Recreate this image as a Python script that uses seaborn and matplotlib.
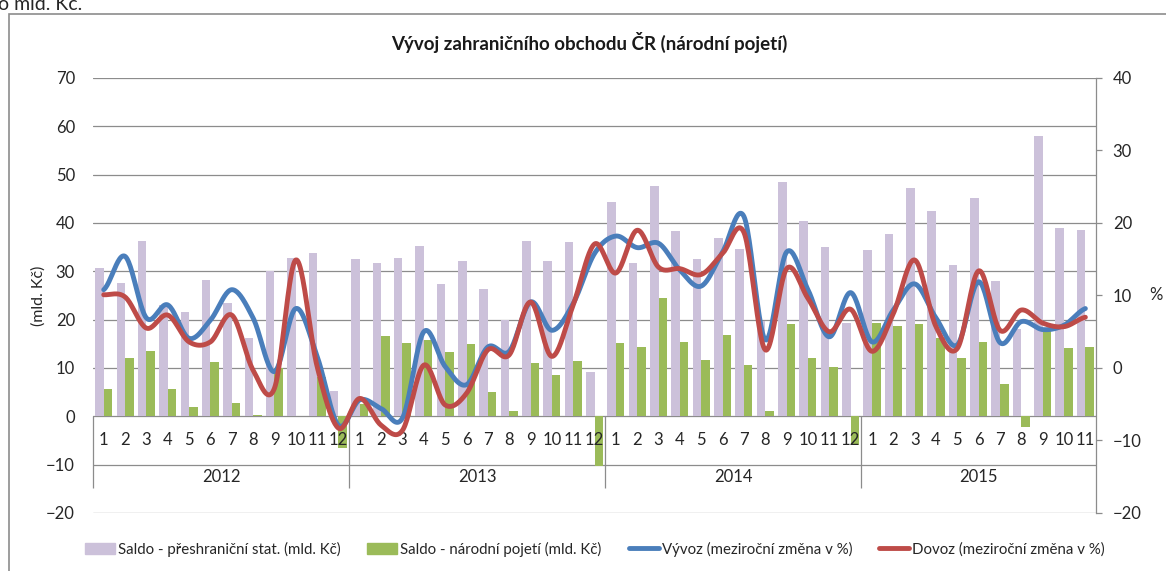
import matplotlib
matplotlib.use("Agg")
import matplotlib.pyplot as plt
from matplotlib.patches import Patch, Rectangle
from matplotlib.lines import Line2D
import numpy as np
import pandas as pd
import seaborn as sns

sns.set_style("white")
plt.rcParams['font.family'] = ['Lato', 'DejaVu Sans']

# --- data ---
years = ["2012", "2013", "2014", "2015"]
months_per_year = [12, 12, 12, 11]
month_labels = [str(m) for n in months_per_year for m in range(1, n + 1)]

saldo_preshranicni = [30.7, 27.6, 36.3, 23.0, 21.5, 28.3, 23.4, 16.3, 30.1, 32.8, 33.8, 5.3,
                      32.6, 31.8, 32.7, 35.3, 27.4, 32.2, 26.4, 20.0, 36.3, 32.2, 36.0, 9.2,
                      44.4, 31.8, 47.7, 38.4, 32.5, 36.9, 34.7, 19.7, 48.5, 40.4, 35.0, 19.3,
                      34.5, 37.7, 47.2, 42.4, 31.4, 45.2, 28.1, 18.0, 58.1, 39.0, 38.6]
saldo_narodni = [5.7, 12.1, 13.6, 5.7, 1.9, 11.2, 2.8, 0.2, 10.0, 0.0, 8.2, -6.5,
                 2.5, 16.7, 15.2, 15.8, 13.4, 14.9, 5.0, 1.2, 11.0, 8.6, 11.4, -10.2,
                 15.2, 14.3, 24.4, 15.4, 11.7, 16.9, 10.7, 1.2, 19.1, 12.1, 10.3, -5.9,
                 19.4, 18.6, 19.1, 16.3, 12.1, 15.4, 6.6, -2.3, 17.6, 14.2, 14.3]
vyvoz = [10.8, 15.4, 6.9, 8.7, 4.1, 6.6, 10.8, 6.9, -0.5, 8.2, 1.6, -7.9,
         -4.4, -5.6, -6.9, 5.0, 0.2, -2.3, 2.9, 2.3, 9.1, 5.2, 8.9, 15.8,
         18.2, 16.6, 17.2, 13.5, 11.3, 16.0, 20.9, 3.9, 16.0, 10.8, 4.3, 10.4,
         3.6, 8.0, 11.6, 6.9, 3.2, 11.9, 3.5, 6.4, 5.3, 5.9, 8.2]
dovoz = [10.1, 9.8, 5.5, 7.3, 3.6, 3.6, 7.3, -0.3, -2.8, 14.9, 0.2, -8.3,
         -4.2, -7.9, -8.6, 0.4, -5.1, -3.5, 2.5, 1.8, 9.1, 1.6, 8.7, 17.1,
         13.1, 19.0, 13.9, 13.7, 12.9, 15.8, 18.7, 2.5, 13.7, 9.6, 5.0, 8.1,
         2.3, 7.5, 14.9, 5.7, 2.7, 13.4, 5.2, 8.0, 6.2, 5.7, 7.0]

labels = ["Saldo - přeshraniční stat. (mld. Kč)", "Saldo - národní pojetí (mld. Kč)",
          "Vývoz (meziroční změna v %)", "Dovoz (meziroční změna v %)"]
c_lav, c_green, c_blue, c_red = "#ccc1da", "#9bbb59", "#4a7ebb", "#be4b48"
grid_c = "#8c8c8c"
txt_c = "#262626"

n = len(month_labels)
idx = np.arange(n)
bars = pd.DataFrame({
    "idx": np.concatenate([idx, idx]),
    "value": saldo_preshranicni + saldo_narodni,
    "series": [labels[0]] * n + [labels[1]] * n,
})


def smooth(vals, steps=24):
    # Catmull-Rom curve through the points (like Excel "smoothed line")
    y = np.asarray(vals, float)
    p = np.concatenate([[y[0]], y, [y[-1]]])
    t = np.linspace(0, 1, steps, endpoint=False)
    xs, ys = [], []
    for i in range(len(y) - 1):
        p0, p1, p2, p3 = p[i:i + 4]
        m1, m2 = (p2 - p0) / 2, (p3 - p1) / 2
        ys.append((2*t**3 - 3*t**2 + 1) * p1 + (t**3 - 2*t**2 + t) * m1
                  + (-2*t**3 + 3*t**2) * p2 + (t**3 - t**2) * m2)
        xs.append(i + t)
    return np.append(np.concatenate(xs), len(y) - 1), np.append(np.concatenate(ys), y[-1])


fig = plt.figure(figsize=(11.66, 5.71), dpi=100)
ax = fig.add_axes([0.0798, 0.1016, 0.8602, 0.7618])

sns.barplot(data=bars, x="idx", y="value", hue="series", palette=[c_lav, c_green],
            saturation=1, width=0.8, errorbar=None, linewidth=0, legend=False, ax=ax)
ax.set_xlim(-0.5, n - 0.5)
ax.set_ylim(-20, 70)
ax.set_yticks(range(-20, 71, 10))
ax.set_xticks([])
ax.set_xlabel("")
ax.set_ylabel("(mld. Kč)", fontsize=11.5, labelpad=0, color=txt_c)
ax.tick_params(axis="y", length=0, pad=13, labelsize=12, colors=txt_c)
ax.yaxis.grid(True, color=grid_c, lw=0.9)
ax.set_axisbelow(True)
for s in ax.spines.values():
    s.set_visible(False)

# multi-level category axis
for i, lab in enumerate(month_labels):
    ax.text(i, -5.0, lab, ha="center", va="center", fontsize=12, color=txt_c)
start = 0
for yr, cnt in zip(years, months_per_year):
    ax.text(start + (cnt - 1) / 2, -12.5, yr, ha="center", va="center", fontsize=12, color=txt_c)
    ax.vlines(start - 0.5, -14.8, 0, color=grid_c, lw=0.9, clip_on=False)
    start += cnt

ax2 = ax.twinx()
for vals, col in [(vyvoz, c_blue), (dovoz, c_red)]:
    xs, ys = smooth(vals)
    sns.lineplot(x=xs, y=ys, color=col, linewidth=3.5, sort=False, estimator=None, ax=ax2)
ax2.set_ylim(-20, 40)
ax2.set_yticks(range(-20, 41, 10))
ax2.set_ylabel("%", rotation=0, fontsize=12, labelpad=10, va="center", color=txt_c)
ax2.tick_params(axis="y", length=4, width=0.9, pad=8, labelsize=12, colors=txt_c)
ax2.tick_params(axis="y", color=grid_c)
for k, s in ax2.spines.items():
    s.set_visible(k == "right")
ax2.spines["right"].set_color(grid_c)
ax2.spines["right"].set_linewidth(0.9)

fig.text(0.505, 0.926, "Vývoj zahraničního obchodu ČR (národní pojetí)", ha="center", va="center",
         fontsize=13.5, fontweight="bold", color="#1a1a1a")
fig.text(-0.002, 1 - 10 / 571, "o mld. Kč.", ha="left", va="baseline", fontsize=14)
fig.add_artist(Rectangle((9 / 1166, -0.05), 1.1, 1 - 14 / 571 + 0.05, transform=fig.transFigure,
                         fill=False, edgecolor=grid_c, lw=1.2))

handles = [Patch(color=c_lav), Patch(color=c_green),
           Line2D([], [], color=c_blue, lw=3.5), Line2D([], [], color=c_red, lw=3.5)]
fig.legend(handles, labels, loc="center", bbox_to_anchor=(0.51, 0.0385), ncol=4, frameon=False,
           fontsize=10.8, handlelength=2.0, handletextpad=0.2, columnspacing=1.8)

fig.savefig("out.png", dpi=100)
